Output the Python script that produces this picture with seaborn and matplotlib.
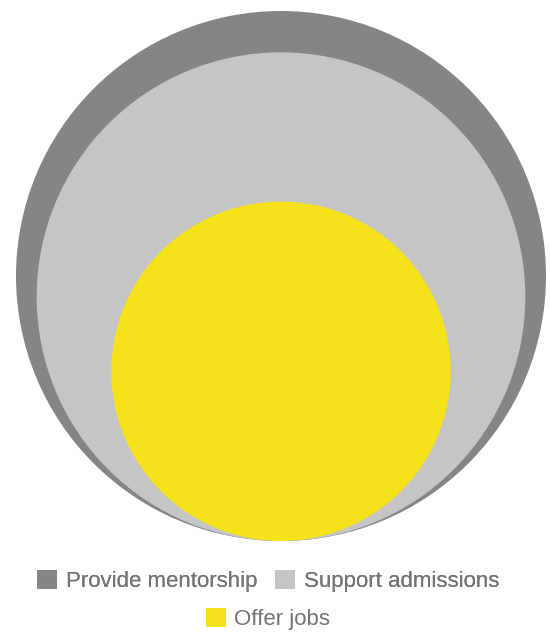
import numpy as np
import matplotlib
matplotlib.use("Agg")
import matplotlib.pyplot as plt
from matplotlib.patches import Circle, Patch
import seaborn as sns

sns.set_style("white")
plt.rcParams["font.family"] = ["Liberation Sans", "DejaVu Sans"]

# nested circles, area proportional to value
labels = ["Provide mentorship", "Support admissions", "Offer jobs"]
values = [100, 85, 41]
colors = ["#858585", "#c5c5c5", "#f5e21b"]

fig = plt.figure(figsize=(5.51, 6.33), dpi=100)
ax = fig.add_axes([0, 0, 1, 1])
ax.set_xlim(0, 551)
ax.set_ylim(633, 0)
ax.set_aspect("equal")
ax.axis("off")

# scale: largest circle radius in px, all circles tangent at the bottom
r_max = 265
base_y = 541
cx = 281
radii = r_max * np.sqrt(np.array(values) / max(values))
for r, c in zip(radii, colors):
    ax.add_patch(Circle((cx, base_y - r), r, facecolor=c, edgecolor="none"))

# legend: two on the first row, one centred below
handles = [Patch(facecolor=c, edgecolor="none") for c in colors]
kw = dict(frameon=False, fontsize=16, handlelength=0.9, handleheight=0.9,
          handletextpad=0.4, columnspacing=0.8, labelcolor="#737373",
          borderpad=0, loc="center")
leg1 = fig.legend(handles[:2], labels[:2], ncol=2,
                  bbox_to_anchor=(268 / 551, 1 - 581 / 633), **kw)
fig.add_artist(leg1)
fig.legend(handles[2:], labels[2:], ncol=1,
           bbox_to_anchor=(268 / 551, 1 - 619 / 633), **kw)

fig.savefig("out.png", dpi=100)
